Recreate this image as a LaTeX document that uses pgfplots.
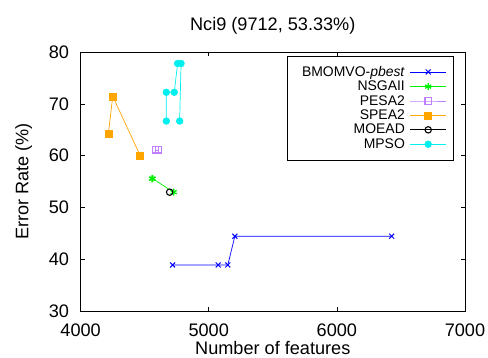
\documentclass[border=0pt]{standalone}
\usepackage{pgfplots}
\pgfplotsset{compat=1.18}
\usepackage{fontspec}
\setmainfont{Liberation Sans}
\definecolor{cblue}{RGB}{0,0,255}
\definecolor{cgreen}{RGB}{0,240,0}
\definecolor{cpurple}{RGB}{192,128,255}
\definecolor{corange}{RGB}{255,165,0}
\definecolor{ccyan}{RGB}{0,240,240}
\begin{document}
\begin{tikzpicture}
\path[use as bounding box] (-80.6bp,-47bp) rectangle (407.4bp,311bp);
\begin{axis}[
  scale only axis,
  width=384.4bp, height=259bp,
  xmin=4000, xmax=7000, ymin=30, ymax=80,
  xtick={4000,5000,6000,7000},
  ytick={30,40,50,60,70,80},
  tick align=inside,
  major tick length=4bp,
  axis line style={line width=0.8pt},
  tick style={line width=0.6pt,black},
  /pgf/number format/assume math mode=true,
  /pgf/number format/set thousands separator={},
  every tick label/.append style={font=\fontsize{18.2}{20}\selectfont},
  xticklabel style={yshift=-9bp},
  yticklabel style={xshift=-8bp},
  title={Nci9 (9712, 53.33\%)},
  title style={font=\fontsize{18.2}{20}\selectfont, yshift=8bp},
  xlabel={Number of features},
  ylabel={Error Rate (\%)},
  label style={font=\fontsize{18.2}{20}\selectfont},
  xlabel style={yshift=2bp},
  ylabel style={yshift=10bp},
  legend style={at={(0.971,0.985)}, anchor=north east, draw=black, line width=0.6pt,
    font=\fontsize{14}{14}\selectfont, legend cell align=right,
    row sep=-0.8bp, column sep=3bp, inner xsep=7bp, inner ysep=8bp},
  legend plot pos=right,
  legend image code/.code={
    \draw[mark repeat=2,mark phase=2] plot coordinates {(0bp,0bp) (18bp,0bp) (36bp,0bp)};},
  every axis plot/.append style={line width=0.7pt},
]
\addplot[color=cblue, mark=x, mark size=3.5bp, mark options={line width=1pt}] coordinates {
 (4718,38.89) (5074,38.89) (5149,38.89) (5204,44.44) (6428,44.44)};
\addlegendentry{\hspace*{6bp}BMOMVO-\textit{pbest}}
\addplot[color=cgreen, mark=asterisk, mark size=3.5bp, mark options={line width=1.3pt}] coordinates {
 (4557,55.56) (4562,55.56) (4726,52.94)};
\addlegendentry{NSGAII}
\addplot[color=cpurple, mark=square, mark size=3.2bp, mark options={line width=1.2pt}] coordinates {
 (4585,61.11) (4608,61.11)};
\addlegendentry{PESA2}
\addplot[color=corange, mark=square*, mark size=3.5bp] coordinates {
 (4217,64.29) (4251,71.43) (4465,60.00)};
\addlegendentry{SPEA2}
\addplot[color=black, mark=o, mark size=3.2bp, mark options={line width=1.1pt}] coordinates {
 (4695,52.94)};
\addlegendentry{MOEAD}
\addplot[color=ccyan, mark=*, mark size=3.3bp] coordinates {
 (4669,66.67) (4669,72.22) (4731,72.22) (4757,77.78) (4784,77.78) (4773,66.67)};
\addlegendentry{MPSO}
\end{axis}
\end{tikzpicture}
\end{document}
